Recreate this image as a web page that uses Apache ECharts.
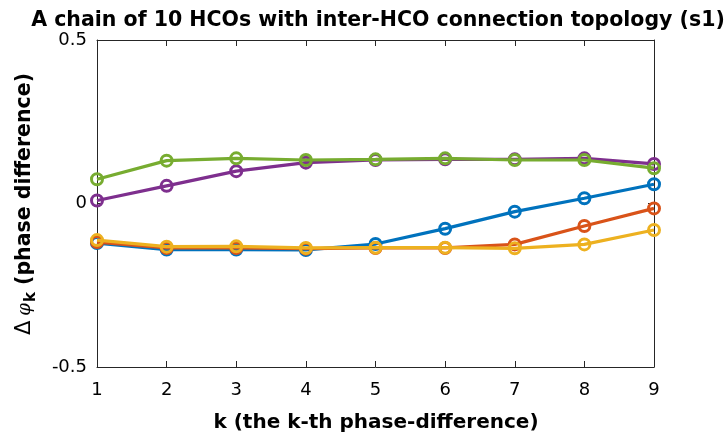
<!DOCTYPE html>
<html>
<head>
<meta charset="utf-8">
<script src="https://cdn.jsdelivr.net/npm/echarts@6/dist/echarts.min.js"></script>
<style>
html,body{margin:0;padding:0;background:#fff;}
#chart{width:726px;height:437px;}
</style>
</head>
<body>
<div id="chart"></div>
<script>
// Data
const kValues = [1, 2, 3, 4, 5, 6, 7, 8, 9];
const yTicks = [-0.5, 0, 0.5];
const seriesBlue   = [-0.121, -0.141, -0.141, -0.142, -0.124, -0.077, -0.025, 0.016, 0.059];
const seriesOrange = [-0.118, -0.136, -0.136, -0.138, -0.136, -0.136, -0.125, -0.069, -0.015];
const seriesYellow = [-0.112, -0.132, -0.131, -0.136, -0.135, -0.135, -0.137, -0.125, -0.081];
const seriesPurple = [0.009, 0.054, 0.099, 0.125, 0.133, 0.135, 0.135, 0.138, 0.121];
const seriesGreen  = [0.074, 0.131, 0.138, 0.133, 0.135, 0.138, 0.133, 0.133, 0.108];
const seriesNames  = ['s1', 's2', 's3', 's4', 's5'];
const seriesColors = ['#0072BD', '#D95319', '#EDB120', '#7E2F8E', '#77AC30'];
const allSeries = [seriesBlue, seriesOrange, seriesYellow, seriesPurple, seriesGreen];
const titleText = 'A chain of 10 HCOs with inter-HCO connection topology (s1)';
const xName = 'k (the k-th phase-difference)';

const axisColor = '#262626';
const font = '"DejaVu Sans", Verdana, sans-serif';

const chart = echarts.init(document.getElementById('chart'), null, {renderer: 'canvas'});

const baseAxis = {
  axisLine: {show: true, onZero: false, lineStyle: {color: axisColor, width: 1}},
  axisTick: {show: true, inside: true, length: 6, lineStyle: {color: axisColor}},
  splitLine: {show: false}
};

const option = {
  backgroundColor: '#fff',
  animation: false,
  grid: {left: 97, right: 72, top: 40, bottom: 70},
  xAxis: [Object.assign({
    type: 'value', min: 1, max: 9, interval: 1,
    axisLabel: {fontFamily: font, fontSize: 18, color: '#000', margin: 14}
  }, baseAxis), Object.assign({
    type: 'value', min: 1, max: 9, interval: 1, position: 'top',
    axisLabel: {show: false}
  }, baseAxis)],
  yAxis: [Object.assign({
    type: 'value', min: yTicks[0], max: yTicks[yTicks.length - 1], interval: 0.5,
    axisLabel: {fontFamily: font, fontSize: 18, color: '#000', margin: 10,
      formatter: v => (v === 0 ? '0' : String(v))}
  }, baseAxis), Object.assign({
    type: 'value', min: yTicks[0], max: yTicks[yTicks.length - 1], interval: 0.5, position: 'right',
    axisLabel: {show: false}
  }, baseAxis)],
  graphic: [{
    type: 'text', x: 378, y: 21,
    style: {
      text: titleText, align: 'center', verticalAlign: 'middle',
      fontFamily: font, fontWeight: 'bold', fontSize: 20.5, fill: '#000'
    }
  }, {
    type: 'text', x: 376, y: 423,
    style: {
      text: xName, align: 'center', verticalAlign: 'middle',
      fontFamily: font, fontWeight: 'bold', fontSize: 20, fill: '#000'
    }
  }, {
    type: 'text',
    x: 25, y: 204,
    rotation: Math.PI / 2,
    style: {
      text: '{d|Δ}{p|φ}{s|k}{n| (phase difference)}',
      align: 'center', verticalAlign: 'middle',
      rich: {
        d: {fontFamily: font, fontSize: 21, fill: '#000', padding: [0, 5, 0, 0]},
        p: {fontFamily: '"DejaVu Serif", serif', fontStyle: 'italic', fontSize: 18, fill: '#000'},
        s: {fontFamily: font, fontWeight: 'bold', fontSize: 15, fill: '#000', padding: [13, 0, 0, 1]},
        n: {fontFamily: font, fontWeight: 'bold', fontSize: 20.5, fill: '#000'}
      }
    }
  }],
  series: allSeries.map((vals, i) => ({
    name: seriesNames[i],
    type: 'line',
    xAxisIndex: 0, yAxisIndex: 0,
    data: kValues.map((k, j) => [k, vals[j]]),
    symbol: 'circle',
    symbolSize: 11,
    showAllSymbol: true,
    lineStyle: {color: seriesColors[i], width: 3.2},
    itemStyle: {color: 'rgba(0,0,0,0)', borderColor: seriesColors[i], borderWidth: 3},
    z: 2 + i
  }))
};
chart.setOption(option);
</script>
</body>
</html>
